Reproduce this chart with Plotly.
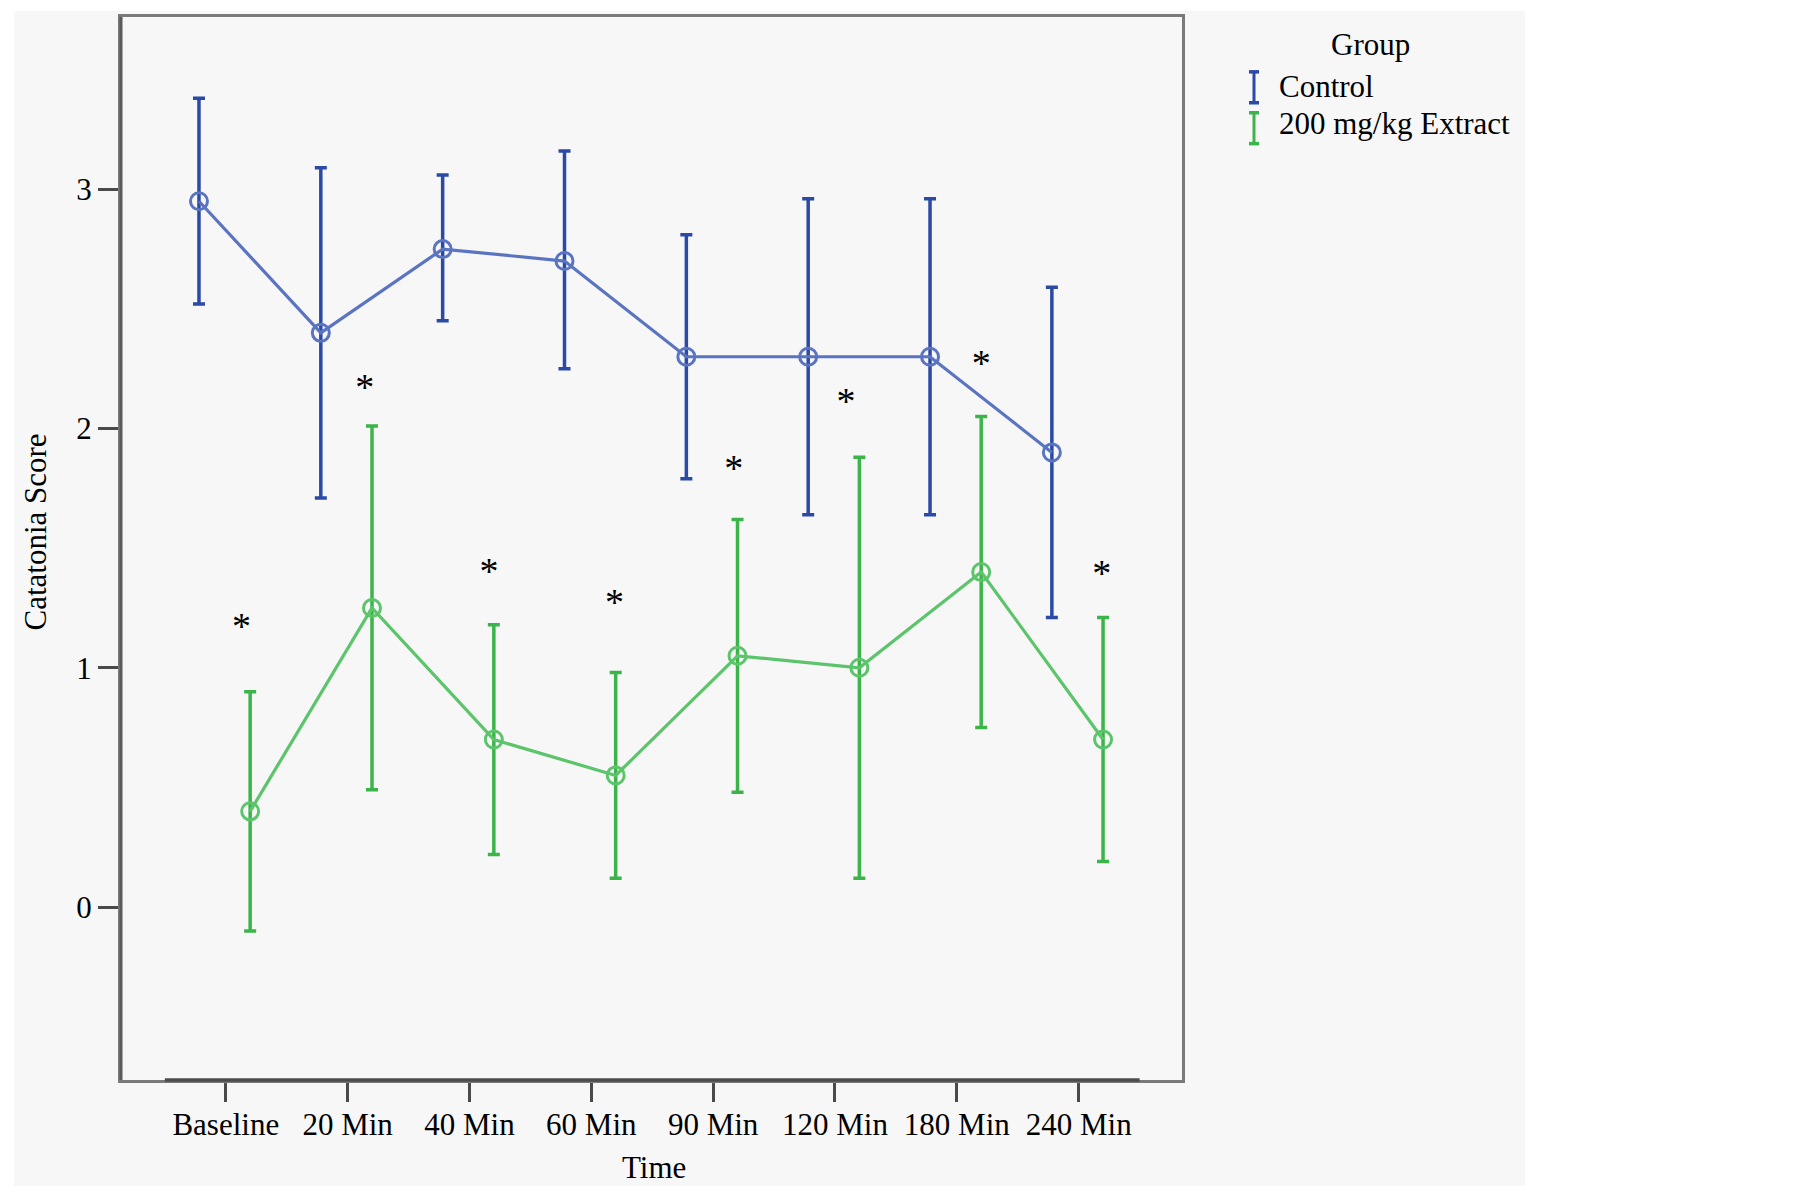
import plotly.graph_objects as go

# ---------------- data ----------------
categories = ["Baseline", "20 Min", "40 Min", "60 Min", "90 Min", "120 Min", "180 Min", "240 Min"]

control_mean = [2.95, 2.40, 2.75, 2.70, 2.30, 2.30, 2.30, 1.90]
control_upper = [3.38, 3.09, 3.06, 3.16, 2.81, 2.96, 2.96, 2.59]
control_lower = [2.52, 1.71, 2.45, 2.25, 1.79, 1.64, 1.64, 1.21]

extract_mean = [0.40, 1.25, 0.70, 0.55, 1.05, 1.00, 1.40, 0.70]
extract_upper = [0.90, 2.01, 1.18, 0.98, 1.62, 1.88, 2.05, 1.21]
extract_lower = [-0.10, 0.49, 0.22, 0.12, 0.48, 0.12, 0.75, 0.19]

star_level = [1.16, 2.16, 1.39, 1.26, 1.82, 2.10, 2.26, 1.38]
star_shift = [0.13, 0.14, 0.16, 0.19, 0.17, 0.09, 0.20, 0.19]

y_ticks = [0, 1, 2, 3]

# ---------------- geometry helpers ----------------
# the page adds an 8px body margin, so the figure is made 16px smaller and
# screen coordinates are converted to figure coordinates by subtracting 8.
OFF = 8
W, H = 1805 - 2 * OFF, 1194 - 2 * OFF
L, R, T, B = 121 - OFF, 1182 - OFF, 14 - OFF, 1080 - OFF  # plot area (figure px)


def px_x(sx):
    return (sx - OFF - L) / (R - L)


def px_y(sy):
    return (B - (sy - OFF)) / (B - T)


FONT = "Liberation Serif"
BLUE = "#2B4AA6"
BLUE_L = "#5A74C2"
GREEN = "#3BB54A"
GREEN_L = "#5CC46A"

idx = list(range(len(categories)))
x_ctrl = [i - 0.22 for i in idx]
x_ext = [i + 0.20 for i in idx]

fig = go.Figure()

fig.add_trace(go.Scatter(
    x=x_ctrl, y=control_mean, mode="lines+markers", name="Control",
    line=dict(color=BLUE_L, width=3.2),
    marker=dict(symbol="circle-open", size=17, color=BLUE_L, line=dict(width=3, color=BLUE_L)),
    error_y=dict(type="data", symmetric=False,
                 array=[u - m for u, m in zip(control_upper, control_mean)],
                 arrayminus=[m - l for m, l in zip(control_mean, control_lower)],
                 color=BLUE, thickness=3.5, width=6),
    showlegend=False,
))

fig.add_trace(go.Scatter(
    x=x_ext, y=extract_mean, mode="lines+markers", name="200 mg/kg Extract",
    line=dict(color=GREEN_L, width=3.2),
    marker=dict(symbol="circle-open", size=17, color=GREEN_L, line=dict(width=3, color=GREEN_L)),
    error_y=dict(type="data", symmetric=False,
                 array=[u - m for u, m in zip(extract_upper, extract_mean)],
                 arrayminus=[m - l for m, l in zip(extract_mean, extract_lower)],
                 color=GREEN, thickness=3.5, width=6),
    showlegend=False,
))

fig.add_trace(go.Scatter(
    x=[i + s for i, s in zip(idx, star_shift)], y=star_level, mode="text",
    text=["*"] * len(idx), textposition="middle center",
    textfont=dict(family=FONT, size=38, color="black"),
    showlegend=False, hoverinfo="skip",
))

shapes = [
    # gray page background
    dict(type="rect", xref="paper", yref="paper", layer="below",
         x0=px_x(14), x1=px_x(1525), y0=px_y(1194), y1=px_y(OFF),
         fillcolor="#F7F7F7", line=dict(width=0)),
    # darker left axis and bottom axis segment spanning the categories
    dict(type="line", xref="x", yref="paper", x0=-0.5, x1=len(categories) - 0.5,
         y0=0, y1=0, line=dict(color="#4d4d4d", width=3.5)),
    dict(type="line", xref="paper", yref="paper", x0=0, x1=0,
         y0=0, y1=1, line=dict(color="#5a5a5a", width=3)),
]

# legend icons (I-beam error bar glyphs)
for col, (ytop, ybot) in [(BLUE, (69, 100)), (GREEN, (110, 141))]:
    cx = 1254
    shapes.append(dict(type="line", xref="paper", yref="paper",
                       x0=px_x(cx), x1=px_x(cx), y0=px_y(ytop), y1=px_y(ybot),
                       line=dict(color=col, width=3)))
    for yy in (ytop, ybot):
        shapes.append(dict(type="line", xref="paper", yref="paper",
                           x0=px_x(cx - 5), x1=px_x(cx + 5), y0=px_y(yy), y1=px_y(yy),
                           line=dict(color=col, width=3.5)))

annotations = [
    dict(text="Catatonia Score", xref="paper", yref="paper", x=px_x(36), y=px_y(531),
         textangle=-90, showarrow=False, xanchor="center", yanchor="middle",
         font=dict(family=FONT, size=31, color="black")),
    dict(text="Time", xref="paper", yref="paper", x=px_x(654), y=px_y(1194 - OFF),
         showarrow=False, xanchor="center", yanchor="bottom", borderpad=0,
         font=dict(family=FONT, size=31, color="black")),
    dict(text="Group", xref="paper", yref="paper", x=px_x(1370), y=px_y(42),
         showarrow=False, xanchor="center", yanchor="middle",
         font=dict(family=FONT, size=31, color="black")),
    dict(text="Control", xref="paper", yref="paper", x=px_x(1277), y=px_y(84),
         showarrow=False, xanchor="left", yanchor="middle",
         font=dict(family=FONT, size=31, color="black")),
    dict(text="200 mg/kg Extract", xref="paper", yref="paper", x=px_x(1277), y=px_y(121),
         showarrow=False, xanchor="left", yanchor="middle",
         font=dict(family=FONT, size=31, color="black")),
]

fig.update_layout(
    width=W, height=H,
    margin=dict(l=L, r=W - R, t=T, b=H - B, pad=0),
    paper_bgcolor="white", plot_bgcolor="#F7F7F7",
    font=dict(family=FONT, size=31, color="black"),
    shapes=shapes, annotations=annotations,
    showlegend=False,
)

fig.update_xaxes(
    range=[-0.86, 7.848], tickmode="array", tickvals=idx, ticktext=categories,
    ticks="outside", ticklen=19, tickwidth=3, tickcolor="#4a4a4a",
    ticklabelstandoff=-4,
    showline=True, mirror=True, linecolor="#7a7a7a", linewidth=3,
    showgrid=False, zeroline=False,
    tickfont=dict(family=FONT, size=31, color="black"),
)
fig.update_yaxes(
    range=[-0.723, 3.72], tickmode="array", tickvals=y_ticks,
    ticks="outside", ticklen=20, tickwidth=3, tickcolor="#4a4a4a",
    showline=True, mirror=True, linecolor="#7a7a7a", linewidth=3,
    showgrid=False, zeroline=False,
    tickfont=dict(family=FONT, size=31, color="black"),
)

fig.write_html("out.html")
